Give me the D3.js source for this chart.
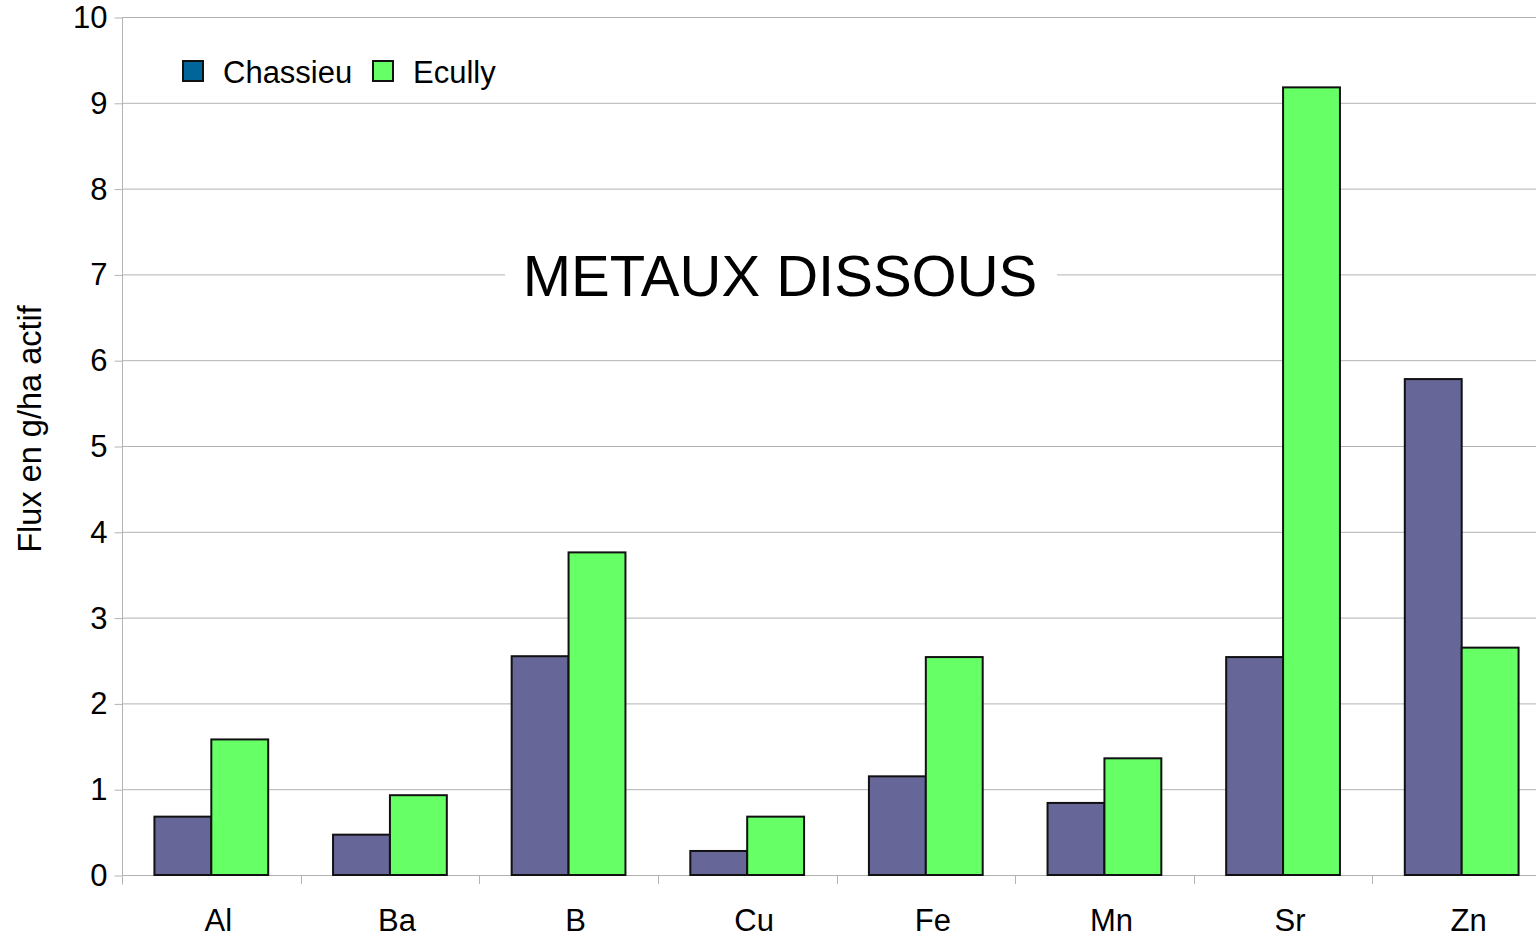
<!DOCTYPE html>
<html>
<head>
<meta charset="utf-8">
<script src="https://cdn.jsdelivr.net/npm/d3@7"></script>
<style>
  body { margin: 0; background: #fff; }
  svg { display: block; font-family: "Liberation Sans", Arial, sans-serif; }
</style>
</head>
<body>
<div class="chart-container"></div>
<script>
// data
const categories = ['Al', 'Ba', 'B', 'Cu', 'Fe', 'Mn', 'Sr', 'Zn'];
const seriesNames = ['Chassieu', 'Ecully'];
const chassieu = [0.68, 0.47, 2.55, 0.28, 1.15, 0.84, 2.54, 5.78];
const ecully = [1.58, 0.93, 3.76, 0.68, 2.54, 1.36, 9.18, 2.65];
const yTicks = [0, 1, 2, 3, 4, 5, 6, 7, 8, 9, 10];

const barColors = ['#666699', '#66ff66'];
const legendColors = ['#006699', '#66ff66'];

const width = 1536;
const height = 938;
const marginTop = 17;
const marginLeft = 122;
const plotRight = 1551; // plot runs past the picture edge
const plotBottom = 875;

const svg = d3.select('.chart-container').append('svg')
    .attr('width', width)
    .attr('height', height);

const x = d3.scaleBand()
    .domain(categories)
    .range([marginLeft, plotRight]);

const xInner = d3.scaleBand()
    .domain(seriesNames)
    .range([0, x.bandwidth()])
    .paddingOuter(0.57);

const y = d3.scaleLinear()
    .domain([0, 10])
    .range([plotBottom, marginTop]);

// gridlines
svg.append('g')
    .selectAll('line')
    .data(yTicks)
    .enter()
    .append('line')
    .attr('x1', marginLeft)
    .attr('x2', width)
    .attr('y1', d => y(d) + 0.5)
    .attr('y2', d => y(d) + 0.5)
    .attr('stroke', '#b3b3b3')
    .attr('stroke-width', 1);

// y axis
const yAxis = svg.append('g')
    .attr('transform', `translate(${marginLeft + 0.5},0.5)`)
    .call(d3.axisLeft(y).tickValues(yTicks).tickSize(8).tickSizeOuter(0).tickPadding(7).tickFormat(d3.format('d')));
yAxis.select('.domain').attr('stroke', '#b3b3b3').attr('d', `M0,${marginTop}V${plotBottom + 9}`);
yAxis.selectAll('.tick line').attr('stroke', '#b3b3b3');
yAxis.selectAll('text').attr('font-size', 31).attr('fill', '#000')
    .attr('font-family', '"Liberation Sans", Arial, sans-serif');

// x axis: ticks between categories
const xEdges = categories.map(c => x(c)).concat([plotRight]);
svg.append('g')
    .selectAll('line')
    .data(xEdges)
    .enter()
    .append('line')
    .attr('x1', d => Math.round(d) + 0.5)
    .attr('x2', d => Math.round(d) + 0.5)
    .attr('y1', plotBottom)
    .attr('y2', plotBottom + 9)
    .attr('stroke', '#b3b3b3');

svg.append('g')
    .selectAll('text')
    .data(categories)
    .enter()
    .append('text')
    .attr('x', d => x(d) + x.bandwidth() / 2 + 7)
    .attr('y', 931)
    .attr('text-anchor', 'middle')
    .attr('font-size', 31)
    .text(d => d);

// title box, covering the gridline
const titleX = 780;
const titleY = 296;
svg.append('rect')
    .attr('x', 505)
    .attr('y', 240)
    .attr('width', 552)
    .attr('height', 70)
    .attr('fill', '#fff');
svg.append('text')
    .attr('x', titleX)
    .attr('y', titleY)
    .attr('text-anchor', 'middle')
    .attr('font-size', 58)
    .text('METAUX DISSOUS');

// bars
const series = [chassieu, ecully];
const groups = svg.append('g')
    .selectAll('g')
    .data(series)
    .enter()
    .append('g')
    .attr('fill', (d, i) => barColors[i]);

groups.selectAll('rect')
    .data((d, i) => d.map((v, j) => ({ cat: categories[j], name: seriesNames[i], value: v })))
    .enter()
    .append('rect')
    .attr('x', d => x(d.cat) + xInner(d.name))
    .attr('y', d => y(d.value))
    .attr('width', xInner.bandwidth())
    .attr('height', d => y(0) - y(d.value))
    .attr('stroke', '#111')
    .attr('stroke-width', 2);

// y axis title
svg.append('text')
    .attr('transform', 'translate(41,429) rotate(-90)')
    .attr('text-anchor', 'middle')
    .attr('font-size', 32.5)
    .text('Flux en g/ha actif');

// legend
const legend = svg.append('g').attr('id', 'legend');
const legendX = [183, 373];
seriesNames.forEach((name, i) => {
    legend.append('rect')
        .attr('x', legendX[i])
        .attr('y', 61)
        .attr('width', 20)
        .attr('height', 20)
        .attr('fill', legendColors[i])
        .attr('stroke', '#111')
        .attr('stroke-width', 2);
    legend.append('text')
        .attr('x', legendX[i] + 40)
        .attr('y', 83)
        .attr('font-size', 31)
        .text(name);
});
</script>
</body>
</html>
